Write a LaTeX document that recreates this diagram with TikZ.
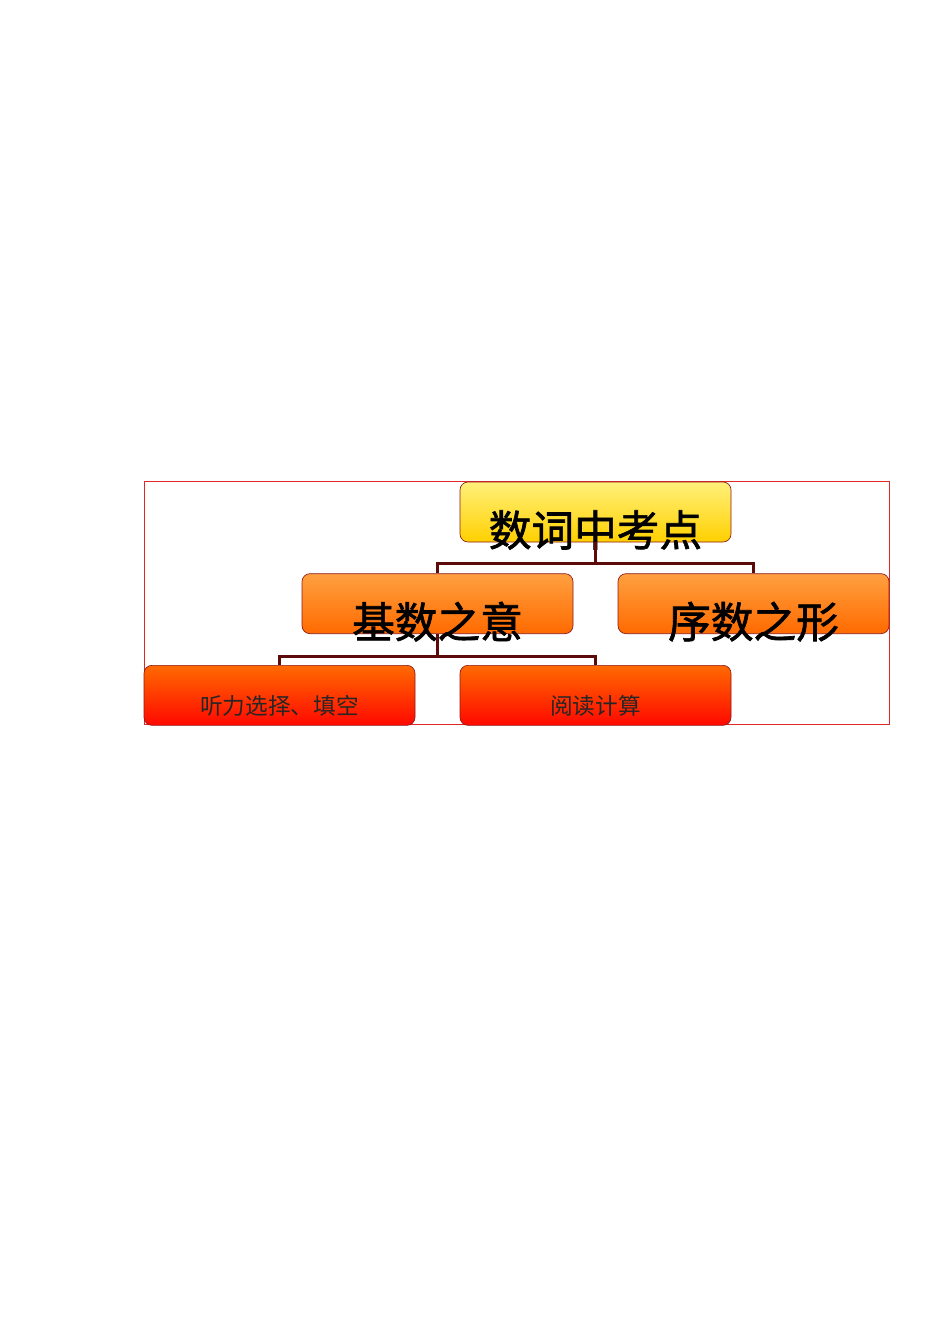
\documentclass[tikz,border=0pt]{standalone}
\usepackage{fontspec}
\newfontfamily\cjk{Noto Sans CJK SC}
\newfontfamily\cjkbig[FakeBold=1.6]{Noto Sans CJK SC}
\usetikzlibrary{positioning}

\definecolor{topA}{HTML}{FFF07A}
\definecolor{topB}{HTML}{FFD000}
\definecolor{midA}{HTML}{FFA040}
\definecolor{midB}{HTML}{FF6A00}
\definecolor{lowA}{HTML}{FF6A00}
\definecolor{lowB}{HTML}{FF0800}
\definecolor{rim}{HTML}{8B1A1A}
\definecolor{linkred}{HTML}{5C0A0A}
\definecolor{framered}{HTML}{E02828}

\begin{document}
\begin{tikzpicture}[x=0.75pt,y=-0.75pt,
  box/.style={rectangle,rounded corners=6pt,draw=rim,line width=0.5pt,
    minimum width=203.25pt,minimum height=45pt,inner sep=0pt},
  top box/.style={box,top color=topA,bottom color=topB},
  mid box/.style={box,top color=midA,bottom color=midB},
  low box/.style={box,top color=lowA,bottom color=lowB},
  big text/.style={font=\cjkbig\fontsize{32pt}{32pt}\selectfont,yshift=-13.5pt},
  small text/.style={font=\cjk\fontsize{17pt}{17pt}\selectfont,text=black!85,yshift=-8.25pt},
  link/.style={draw=linkred,line width=2.25pt}]
  \useasboundingbox (0,0) rectangle (950,1344);
  \draw[framered,line width=0.6pt] (144,481) rectangle (889,724);
  \node[top box, label={[big text]center:数词中考点}] (top) at (595.5,512) {};
  \node[mid box, label={[big text]center:基数之意}] (base) [below=23.25pt of top, xshift=-118.5pt] {};
  \node[mid box, label={[big text]center:序数之形}] (ord) [below=23.25pt of top, xshift=118.5pt] {};
  \node[low box, label={[small text]center:听力选择、填空}] (listen) [below=23.25pt of base, xshift=-118.5pt] {};
  \node[low box, label={[small text]center:阅读计算}] (read) [below=23.25pt of base, xshift=118.5pt] {};
  \draw[link] (top.south) -- ++(0,21) coordinate (j1) -| (base.north);
  \draw[link] (j1) -| (ord.north);
  \draw[link] (base.south) -- ++(0,22) coordinate (j2) -| (listen.north);
  \draw[link] (j2) -| (read.north);
\end{tikzpicture}
\end{document}
